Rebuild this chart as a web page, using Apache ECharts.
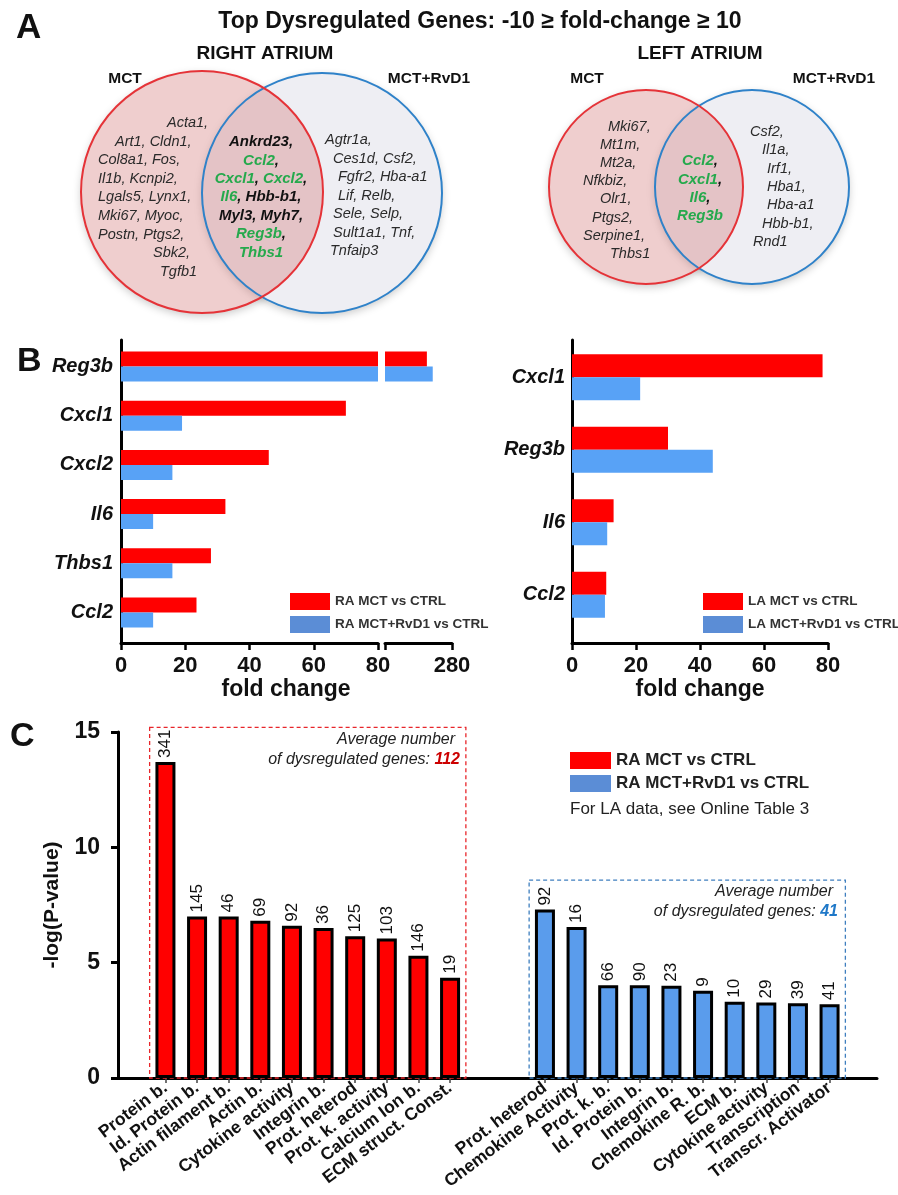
<!DOCTYPE html>
<html><head><meta charset="utf-8">
<script src="https://cdn.jsdelivr.net/npm/echarts@6/dist/echarts.min.js"></script>
<style>html,body{margin:0;padding:0;background:#fff}#c{width:898px;height:1195px}</style>
</head><body><div id="c"></div>
<script>
// ---------------- DATA ----------------
// Panel A (Venn gene lists, one string per printed line)
const raMctOnly = ['Acta1,', 'Art1, Cldn1,', 'Col8a1, Fos,', 'Il1b, Kcnpi2,', 'Lgals5, Lynx1,', 'Mki67, Myoc,', 'Postn, Ptgs2,', 'Sbk2,', 'Tgfb1'];
const raShared = ['Ankrd23,', 'Ccl2,', 'Cxcl1, Cxcl2,', 'Il6, Hbb-b1,', 'Myl3, Myh7,', 'Reg3b,', 'Thbs1'];
const raRvd1Only = ['Agtr1a,', 'Ces1d, Csf2,', 'Fgfr2, Hba-a1', 'Lif, Relb,', 'Sele, Selp,', 'Sult1a1, Tnf,', 'Tnfaip3'];
const laMctOnly = ['Mki67,', 'Mt1m,', 'Mt2a,', 'Nfkbiz,', 'Olr1,', 'Ptgs2,', 'Serpine1,', 'Thbs1'];
const laShared = ['Ccl2,', 'Cxcl1,', 'Il6,', 'Reg3b'];
const laRvd1Only = ['Csf2,', 'Il1a,', 'Irf1,', 'Hba1,', 'Hba-a1', 'Hbb-b1,', 'Rnd1'];
const highlightedGenes = ['Ccl2', 'Cxcl1', 'Cxcl2', 'Il6', 'Reg3b', 'Thbs1'];

// Panel B (fold change)
const raGenes = ['Reg3b', 'Cxcl1', 'Cxcl2', 'Il6', 'Thbs1', 'Ccl2'];
const raMct = [250, 70, 46, 32.5, 28, 23.5];
const raRvd1 = [257, 19, 16, 10, 16, 10];
const laGenes = ['Cxcl1', 'Reg3b', 'Il6', 'Ccl2'];
const laMct = [78.3, 30, 13, 10.7];
const laRvd1 = [21.3, 44, 11, 10.3];

// Panel C (GO terms, -log(P))
const goRedTerms = ['Protein b.', 'Id. Protein b.', 'Actin filament b.', 'Actin b.', 'Cytokine activity', 'Integrin b.', 'Prot. heterod', 'Prot. k. activity', 'Calcium Ion b.', 'ECM struct. Const.'];
const goRedLogP = [13.7, 7.0, 7.0, 6.82, 6.6, 6.5, 6.15, 6.05, 5.3, 4.35];
const goRedCounts = [341, 145, 46, 69, 92, 36, 125, 103, 146, 19];
const goBlueTerms = ['Prot. heterod', 'Chemokine Activity', 'Prot. k. b.', 'Id. Protein b.', 'Integrin b.', 'Chemokine R. b.', 'ECM b.', 'Cytokine activity', 'Transcription', 'Transcr. Activator'];
const goBlueLogP = [7.3, 6.55, 4.02, 4.02, 4.0, 3.78, 3.31, 3.27, 3.24, 3.2];
const goBlueCounts = [92, 16, 66, 90, 23, 9, 10, 29, 39, 41];
const avgGenes = [112, 41];
const goBoxes = [[1, 10, 15.2], [13, 22, 8.58]]; // [first slot, last slot, top in -log(P)]

// ---------------- STYLE ----------------
const FONT = '"Liberation Sans", Arial, Helvetica, sans-serif';
const RED = '#ff0000';
const BLUE_B = '#58a2f6';
const BLUE_C = '#5a9cec';
const BLUE_LEG = '#5b8dd6';
const GREEN = '#25a94c';
const boxStyles = [{color: '#e8262b'}, {color: '#3f7fbf'}];

// padded category layout for panel C: empty slot, 10 red, 2 empty, 10 blue, empty
const goCats = [''].concat(goRedTerms, ['', ''], goBlueTerms, ['']);
function pad(arr, start) { const out = goCats.map(() => null); arr.forEach((v, i) => { out[start + i] = v; }); return out; }
const redLogPPad = pad(goRedLogP, 1), redCountPad = pad(goRedCounts, 1);
const blueLogPPad = pad(goBlueLogP, 13), blueCountPad = pad(goBlueCounts, 13);

// ---------------- GRAPHIC HELPERS ----------------
function T(x, y, text, st) {
  const s = Object.assign({text: text, fill: '#111', fontFamily: FONT, fontSize: 14, align: 'left', verticalAlign: 'middle'}, st || {});
  s.textAlign = s.align; s.textVerticalAlign = s.verticalAlign;
  return {type: 'text', x: x, y: y, silent: true, z: 10, style: s};
}
const greenSet = new Set(highlightedGenes);
function richLine(str) {
  return str.split(/([A-Za-z0-9-]+)/).filter(s => s !== '').map(tok => (greenSet.has(tok) ? '{g|' : '{k|') + tok + '}').join('');
}
const richShared = {
  g: {fill: GREEN, color: GREEN, fontWeight: 'bold', fontStyle: 'italic', fontSize: 15, fontFamily: FONT},
  k: {fill: '#111', color: '#111', fontWeight: 'bold', fontStyle: 'italic', fontSize: 15, fontFamily: FONT}
};
const gList = [];
function sideList(lines, xs, y0, dy) {
  lines.forEach((l, i) => gList.push(T(xs[i], y0 + i * dy, l, {fontStyle: 'italic', fontSize: 14.5, fill: '#2a2a2a'})));
}
function sharedList(lines, cx, y0, dy) {
  lines.forEach((l, i) => gList.push(T(cx, y0 + i * dy, richLine(l), {align: 'center', rich: richShared})));
}
function venn(c1, c2) {
  [c1, c2].forEach(c => gList.push({type: 'circle', silent: true, z: 1, shape: {cx: c[0], cy: c[1], r: c[2]},
    style: {fill: '#ffffff', shadowBlur: 8, shadowOffsetY: 3, shadowColor: 'rgba(0,0,0,0.22)'}}));
  gList.push({type: 'circle', silent: true, z: 2, shape: {cx: c2[0], cy: c2[1], r: c2[2]}, style: {fill: '#eeeef3'}});
  gList.push({type: 'circle', silent: true, z: 3, shape: {cx: c1[0], cy: c1[1], r: c1[2]}, style: {fill: 'rgba(212,120,120,0.36)'}});
  gList.push({type: 'circle', silent: true, z: 4, shape: {cx: c2[0], cy: c2[1], r: c2[2]}, style: {fill: 'none', stroke: '#2f82c9', lineWidth: 2}});
  gList.push({type: 'circle', silent: true, z: 4, shape: {cx: c1[0], cy: c1[1], r: c1[2]}, style: {fill: 'none', stroke: '#e53338', lineWidth: 2}});
}

// Panel A
gList.push(T(16, 28, 'A', {fontSize: 35, fontWeight: 'bold'}));
gList.push(T(480, 22, 'Top Dysregulated Genes: -10 \u2265 fold-change \u2265 10', {fontSize: 23, fontWeight: 'bold', align: 'center'}));
gList.push(T(265, 54, 'RIGHT ATRIUM', {fontSize: 19, fontWeight: 'bold', align: 'center'}));
gList.push(T(700, 54, 'LEFT ATRIUM', {fontSize: 19, fontWeight: 'bold', align: 'center'}));
gList.push(T(125, 79, 'MCT', {fontSize: 15.5, fontWeight: 'bold', align: 'center'}));
gList.push(T(429, 79, 'MCT+RvD1', {fontSize: 15.5, fontWeight: 'bold', align: 'center'}));
gList.push(T(587, 79, 'MCT', {fontSize: 15.5, fontWeight: 'bold', align: 'center'}));
gList.push(T(834, 79, 'MCT+RvD1', {fontSize: 15.5, fontWeight: 'bold', align: 'center'}));
venn([202, 192, 121], [322, 193, 120]);
venn([646, 187, 97], [752, 187, 97]);
sideList(raMctOnly, [167, 115, 98, 98, 98, 98, 98, 153, 160], 123, 18.6);
sharedList(raShared, 261, 142, 18.4);
sideList(raRvd1Only, [325, 333, 338, 338, 333, 333, 330], 140, 18.5);
sideList(laMctOnly, [608, 600, 600, 583, 600, 592, 583, 610], 127, 18.1);
sharedList(laShared, 700, 161, 18.4);
sideList(laRvd1Only, [750, 762, 767, 767, 767, 762, 753], 132, 18.3);

// Panel B / C texts
gList.push(T(17, 362, 'B', {fontSize: 34, fontWeight: 'bold'}));
gList.push(T(286, 690, 'fold change', {fontSize: 23, fontWeight: 'bold', align: 'center'}));
gList.push(T(700, 690, 'fold change', {fontSize: 23, fontWeight: 'bold', align: 'center'}));
gList.push(T(10, 737, 'C', {fontSize: 34, fontWeight: 'bold'}));
const boxRich = (col) => ({
  i: {fill: '#222', color: '#222', fontStyle: 'italic', fontSize: 16, fontFamily: FONT},
  n: {fill: col, color: col, fontStyle: 'italic', fontWeight: 'bold', fontSize: 16, fontFamily: FONT}
});
gList.push(T(455, 740, 'Average number', {fontStyle: 'italic', fontSize: 16, fill: '#222', align: 'right'}));
gList.push(T(460, 760, '{i|of dysregulated genes: }{n|' + avgGenes[0] + '}', {align: 'right', rich: boxRich('#cc0000')}));
gList.push(T(833, 892, 'Average number', {fontStyle: 'italic', fontSize: 16, fill: '#222', align: 'right'}));
gList.push(T(838, 912, '{i|of dysregulated genes: }{n|' + avgGenes[1] + '}', {align: 'right', rich: boxRich('#1f78c8')}));
gList.push(T(570, 809, 'For LA data, see Online Table 3', {fontSize: 17, fill: '#222'}));

// ---------------- AXES ----------------
const axLine = {show: true, onZero: false, lineStyle: {color: '#000', width: 3}};
const lblB = {fontSize: 22, fontWeight: 'bold', color: '#111', fontFamily: FONT, margin: 12};
const tickB = {show: true, inside: false, length: 7, lineStyle: {color: '#000', width: 2.5}};
const hiddenVal = (min, max) => ({type: 'value', min: min, max: max, show: false});

const option = {
  animation: false,
  backgroundColor: '#fff',
  textStyle: {fontFamily: FONT},
  graphic: gList,
  grid: [
    {left: 121, top: 340, width: 257, height: 303},
    {left: 385, top: 340, width: 67, height: 303},
    {left: 121, top: 342, width: 257, height: 295},
    {left: 385, top: 342, width: 67, height: 295},
    {left: 572, top: 340, width: 256, height: 303},
    {left: 572, top: 341, width: 256, height: 290},
    {left: 118, top: 732, width: 759, height: 346}
  ],
  xAxis: [
    {gridIndex: 0, type: 'value', min: 0, max: 80, interval: 20, axisLine: axLine, axisTick: tickB, axisLabel: lblB, splitLine: {show: false}},
    {gridIndex: 1, type: 'value', min: 200, max: 280, interval: 80, axisLine: axLine, axisTick: tickB,
      axisLabel: Object.assign({}, lblB, {formatter: v => (v === 280 ? '280' : '')}), splitLine: {show: false}},
    Object.assign({gridIndex: 2}, hiddenVal(0, 80)),
    Object.assign({gridIndex: 3}, hiddenVal(200, 280)),
    {gridIndex: 4, type: 'value', min: 0, max: 80, interval: 20, axisLine: axLine, axisTick: tickB, axisLabel: lblB, splitLine: {show: false}},
    Object.assign({gridIndex: 5}, hiddenVal(0, 80)),
    {gridIndex: 6, type: 'category', data: goCats, axisLine: axLine,
      axisTick: {show: true, alignWithLabel: true, length: 5, interval: (i, v) => v !== '', lineStyle: {color: '#444', width: 1.5}},
      axisLabel: {interval: 0, rotate: 37, fontSize: 17.5, fontWeight: 'bold', color: '#111', margin: 8, fontFamily: FONT}}
  ],
  yAxis: [
    {gridIndex: 0, type: 'value', min: 0, max: 1, axisLine: axLine, axisTick: {show: false}, axisLabel: {show: false}, splitLine: {show: false}},
    Object.assign({gridIndex: 1}, hiddenVal(0, 1)),
    {gridIndex: 2, type: 'category', inverse: true, data: raGenes, axisLine: {show: false}, axisTick: {show: false},
      axisLabel: {fontSize: 20, fontWeight: 'bold', fontStyle: 'italic', color: '#111', margin: 8, fontFamily: FONT}},
    {gridIndex: 3, type: 'category', inverse: true, data: raGenes, show: false},
    {gridIndex: 4, type: 'value', min: 0, max: 1, axisLine: axLine, axisTick: {show: false}, axisLabel: {show: false}, splitLine: {show: false}},
    {gridIndex: 5, type: 'category', inverse: true, data: laGenes, axisLine: {show: false}, axisTick: {show: false},
      axisLabel: {fontSize: 20, fontWeight: 'bold', fontStyle: 'italic', color: '#111', margin: 7, fontFamily: FONT}},
    {gridIndex: 6, type: 'value', min: 0, max: 15, interval: 5, axisLine: axLine,
      axisTick: {show: true, inside: false, length: 7, lineStyle: {color: '#000', width: 3}},
      axisLabel: {fontSize: 23, fontWeight: 'bold', color: '#111', margin: 18, fontFamily: FONT},
      splitLine: {show: false},
      name: '-log(P-value)', nameLocation: 'middle', nameGap: 55, nameRotate: 90,
      nameTextStyle: {fontSize: 21, fontWeight: 'bold', color: '#111', fontFamily: FONT}}
  ],
  legend: [
    {left: 290, top: 593, padding: 0, orient: 'vertical', itemWidth: 40, itemHeight: 17, itemGap: 6, icon: 'rect', selectedMode: false,
      textStyle: {fontSize: 13.5, fontWeight: 'bold', color: '#333', fontFamily: FONT},
      data: [{name: 'RA MCT vs CTRL', itemStyle: {color: RED, borderWidth: 0}}, {name: 'RA MCT+RvD1 vs CTRL', itemStyle: {color: BLUE_LEG, borderWidth: 0}}]},
    {left: 703, top: 593, padding: 0, orient: 'vertical', itemWidth: 40, itemHeight: 17, itemGap: 6, icon: 'rect', selectedMode: false,
      textStyle: {fontSize: 13.5, fontWeight: 'bold', color: '#333', fontFamily: FONT},
      data: [{name: 'LA MCT vs CTRL', itemStyle: {color: RED, borderWidth: 0}}, {name: 'LA MCT+RvD1 vs CTRL', itemStyle: {color: BLUE_LEG, borderWidth: 0}}]},
    {left: 570, top: 752, padding: 0, orient: 'vertical', itemWidth: 41, itemHeight: 17, itemGap: 6, icon: 'rect', selectedMode: false,
      textStyle: {fontSize: 17, fontWeight: 'bold', color: '#222', fontFamily: FONT},
      data: [{name: 'RA MCT vs CTRL', itemStyle: {color: RED, borderWidth: 0}}, {name: 'RA MCT+RvD1 vs CTRL', itemStyle: {color: BLUE_LEG, borderWidth: 0}}]}
  ],
  series: [
    {name: 'RA MCT vs CTRL', type: 'bar', xAxisIndex: 2, yAxisIndex: 2, data: raMct, barWidth: 15, barGap: '0%', clip: true, itemStyle: {color: RED}},
    {name: 'RA MCT+RvD1 vs CTRL', type: 'bar', xAxisIndex: 2, yAxisIndex: 2, data: raRvd1, barWidth: 15, barGap: '0%', clip: true, itemStyle: {color: BLUE_B}},
    {name: 'RA MCT vs CTRL', type: 'bar', xAxisIndex: 3, yAxisIndex: 3, data: raMct, barWidth: 15, barGap: '0%', clip: true, itemStyle: {color: RED}},
    {name: 'RA MCT+RvD1 vs CTRL', type: 'bar', xAxisIndex: 3, yAxisIndex: 3, data: raRvd1, barWidth: 15, barGap: '0%', clip: true, itemStyle: {color: BLUE_B}},
    {name: 'LA MCT vs CTRL', type: 'bar', xAxisIndex: 5, yAxisIndex: 5, data: laMct, barWidth: 23, barGap: '0%', itemStyle: {color: RED}},
    {name: 'LA MCT+RvD1 vs CTRL', type: 'bar', xAxisIndex: 5, yAxisIndex: 5, data: laRvd1, barWidth: 23, barGap: '0%', itemStyle: {color: BLUE_B}},
    {type: 'custom', xAxisIndex: 6, yAxisIndex: 6, data: goBoxes, silent: true, z: 1, encode: {x: [0, 1], y: 2},
      renderItem: (params, api) => {
        const a = api.coord([api.value(0), api.value(2)]);
        const b = api.coord([api.value(1), 0]);
        const bw = api.size([1, 0])[0];
        return {type: 'rect', shape: {x: a[0] - bw / 2, y: a[1], width: b[0] - a[0] + bw, height: b[1] - a[1]},
          style: {fill: 'none', stroke: boxStyles[params.dataIndex].color, lineWidth: 1.3, lineDash: [4, 3]}};
      }},
    {name: 'RA MCT vs CTRL', type: 'bar', xAxisIndex: 6, yAxisIndex: 6, data: redLogPPad, barWidth: 20, barGap: '-100%', z: 3,
      itemStyle: {color: RED, borderColor: '#000', borderWidth: 3},
      label: {show: true, position: 'top', rotate: 90, align: 'left', verticalAlign: 'middle', distance: 4, fontSize: 17, color: '#111', fontFamily: FONT,
        formatter: p => String(redCountPad[p.dataIndex])}},
    {name: 'RA MCT+RvD1 vs CTRL', type: 'bar', xAxisIndex: 6, yAxisIndex: 6, data: blueLogPPad, barWidth: 20, barGap: '-100%', z: 3,
      itemStyle: {color: BLUE_C, borderColor: '#000', borderWidth: 3},
      label: {show: true, position: 'top', rotate: 90, align: 'left', verticalAlign: 'middle', distance: 4, fontSize: 17, color: '#111', fontFamily: FONT,
        formatter: p => String(blueCountPad[p.dataIndex])}}
  ]
};
const chart = echarts.init(document.getElementById('c'), null, {renderer: 'canvas', width: 898, height: 1195});
chart.setOption(option);
</script></body></html>
